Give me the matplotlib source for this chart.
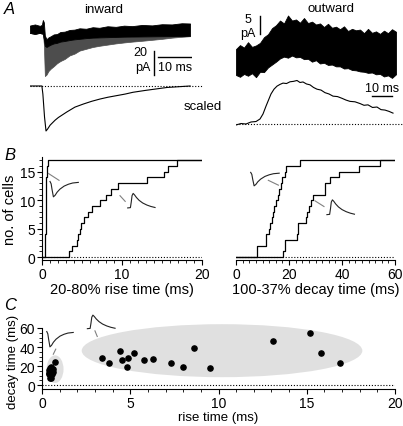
import numpy as np
import matplotlib
matplotlib.use("Agg")
import matplotlib.pyplot as plt
from matplotlib.patches import Ellipse
from matplotlib.ticker import MultipleLocator

plt.rcParams["font.family"] = ["Liberation Sans", "DejaVu Sans"]

W, H = 403, 427

# A: inward currents, envelope of all traces (ms, pA)
in_t = [0, 1.5, 3.0, 3.6, 3.9, 4.2, 4.5, 5.0, 5.6, 6.3, 7.2, 8.2, 9.2, 10.5, 12, 13.5,
        15, 17, 19, 21, 23.5, 26, 28.5, 31, 34, 37, 40, 43, 46, 48.5]
in_top = [2.9, 3.8, 2.6, 3.5, 7.5, 5.5, -5.5, -8.5, -7.0, -6.0, -4.5, -4.2, -2.5, -2.2, -0.8, -0.5,
          0.6, 0.2, 1.5, 1.0, 2.3, 1.8, 2.8, 2.4, 3.4, 3.0, 4.0, 3.8, 4.8, 4.6]
in_core = [-3.3, -4.0, -3.2, -3.8, -3.5, -8.0, -14.0, -15.0, -14.0, -13.0, -12.0, -11.5, -10.5, -10.0, -9.2, -8.6,
           -8.2, -7.6, -7.2, -7.0, -6.8, -6.6, -6.4, -6.3, -6.2, -6.1, -6.0, -5.9, -5.8, -5.6]
in_bot = [-3.3, -4.0, -3.2, -3.8, -3.5, -12.5, -39.2, -38.0, -35.0, -33.0, -31.0, -28.5, -26.7, -25.0, -22.0, -20.5,
          -18.0, -16.5, -15.0, -14.0, -13.0, -12.0, -11.2, -10.5, -9.8, -9.0, -8.2, -7.2, -6.5, -6.0]

# A: inward average, scaled
in_sc_t = [0, 3.6, 3.9, 4.4, 4.85, 5.3, 6.1, 7.6, 8.6, 11.1, 13.6, 16.2, 18.7, 21.2, 23.6, 28.8,
           31.2, 34.8, 41.5, 48.5]
in_sc = [0, 0, -0.18, -0.69, -1.0, -0.96, -0.87, -0.76, -0.70, -0.58, -0.47, -0.40, -0.34, -0.29, -0.25, -0.18,
         -0.14, -0.10, -0.033, 0]

# A: outward currents, envelope of all traces (ms, pA)
out_t = list(range(0, 81, 2))
out_top = [3.3, 4.4, 3.7, 5.2, 3.9, 4.3, 5.0, 6.6, 7.4, 9.1, 9.9, 11.2, 10.4, 12.6, 11.2, 11.5, 10.6, 11.9,
           10.5, 10.9, 10.1, 10.4, 9.4, 10.3, 9.2, 9.5, 8.8, 9.6, 8.3, 8.9, 8.5, 8.7, 7.7, 8.9, 7.8, 8.2,
           7.5, 8.4, 7.7, 8.8, 8.1]
out_bot = [-3.9, -4.4, -3.6, -4.1, -3.4, -4.5, -3.0, -3.1, -1.8, -1.0, -0.2, 0.7, 1.2, 0.9, 1.5, 1.0, 1.1, 0.5,
           0.6, -0.2, 0.2, -0.7, -0.5, -1.1, -1.0, -1.5, -1.5, -2.1, -2.0, -2.5, -2.6, -2.9, -3.0, -3.3,
           -3.2, -3.7, -3.6, -4.3, -4.0, -4.7, -3.7]

# A: outward average, scaled
out_sc_t = [0, 2.5, 5, 7.5, 10, 12, 13.5, 15, 16.25, 17.5, 19, 20.5, 22, 23.5, 25.25, 27, 28.75, 30.5,
            32, 33.5, 35.25, 37, 38.75, 40.5, 42.5, 44.5, 46.5, 48.5, 50.75, 53, 55, 57, 59.5, 62,
            64, 66, 68.25, 70.5, 72.5, 74.5, 76.5, 78.5]
out_sc = [-0.023, 0.011, 0, 0.046, 0.057, 0.115, 0.23, 0.41, 0.55, 0.69, 0.80, 0.87, 0.91, 0.94, 0.93, 0.97,
          0.98, 1.0, 0.954, 0.966, 0.92, 0.90, 0.84, 0.80, 0.78, 0.72, 0.69, 0.64, 0.63, 0.59, 0.55, 0.52,
          0.51, 0.47, 0.43, 0.44, 0.38, 0.39, 0.33, 0.32, 0.29, 0.25]

# B / C: kinetics per cell (ms)
rise_in = [0.45, 0.50, 0.42, 0.54, 0.40, 0.52, 0.47, 0.60, 0.43, 0.54, 0.48, 0.41, 0.65, 0.51, 0.44, 0.53, 0.75]
decay_in = [8.0, 8.0, 11.3, 11.3, 12.5, 13.0, 13.5, 14.0, 14.5, 15.0, 15.8, 16.3, 16.8, 17.5, 18.5, 19.0, 24.0]
rise_out = [3.4, 3.8, 4.4, 4.56, 4.85, 4.8, 5.2, 5.8, 6.3, 7.3, 8.0, 8.6, 9.5, 13.07, 15.2, 15.8, 16.9]
decay_out = [28.4, 23.0, 35.5, 26.7, 29.0, 18.6, 33.7, 26.3, 27.4, 23.5, 18.6, 39.0, 17.9, 46.3, 54.4, 33.7, 23.5]

# small example waveforms used as insets (normalised)
shape_in_t = [0, 0.04, 0.07, 0.12, 0.18, 0.25, 0.35, 0.5, 0.65, 0.8, 1.0]
shape_in = [0, -0.15, -0.5, -1.0, -0.9, -0.7, -0.5, -0.3, -0.18, -0.1, -0.06]
shape_out_t = [0, 0.1, 0.13, 0.16, 0.2, 0.25, 0.32, 0.42, 0.55, 0.7, 0.85, 1.0]
shape_out = [0, 0.02, 0.4, 0.85, 1.0, 0.9, 0.72, 0.52, 0.34, 0.2, 0.1, 0.03]

fig = plt.figure(figsize=(W / 100, H / 100), dpi=100)


def box(x0, y0, x1, y1):
    return fig.add_axes([x0 / W, 1 - y1 / H, (x1 - x0) / W, (y1 - y0) / H])


dots = (0, (1, 1.6))
grey = "#808080"

# ---------- A ----------
ax = box(30, 15, 192, 82)
ax.set_xlim(0, 49.1)
ax.set_ylim(-43.3, 12.5)
ax.axis("off")
ax.fill_between(in_t, in_bot, in_core, color="#4d4d4d", lw=0.5)
ax.fill_between(in_t, in_core, in_top, color="black", lw=0.6)
ax.plot([37.6, 37.6], [-18.3, -38.3], color="black", lw=1)
ax.plot([38.8, 48.8], [-23.3, -23.3], color="black", lw=1)
ax.text(33.3, -18.75, "20", ha="center", va="center", fontsize=9)
ax.text(34.2, -31.25, "pA", ha="center", va="center", fontsize=9)
ax.text(43.9, -31.7, "10 ms", ha="center", va="center", fontsize=9)

ax = box(30, 85, 203, 135)
ax.set_xlim(0, 52.4)
ax.set_ylim(-1.067, 0.044)
ax.axis("off")
ax.axhline(0, color="black", lw=0.8, ls=dots)
ax.plot(in_sc_t, in_sc, color="black", lw=0.8)

ax = box(236, 10, 396, 80)
ax.set_xlim(0, 80)
ax.set_ylim(-5, 14.4)
ax.axis("off")
ax.fill_between(out_t, out_bot, out_top, color="black", lw=0.6)
ax.plot([12, 12], [7.5, 12.5], color="black", lw=1)
ax.text(5.75, 11.7, "5", ha="center", va="center", fontsize=9)
ax.text(5.75, 7.8, "pA", ha="center", va="center", fontsize=9)

ax = box(236, 75, 403, 130)
ax.set_xlim(0, 83.5)
ax.set_ylim(-0.115, 1.149)
ax.axis("off")
ax.axhline(0, color="black", lw=0.8, ls=dots)
ax.plot(out_sc_t, out_sc, color="black", lw=0.8)
ax.plot([67.8, 77.8], [0.64, 0.64], color="black", lw=1)
ax.text(72.8, 0.83, "10 ms", ha="center", va="center", fontsize=9)

fig.text(104 / W, 1 - 10 / H, "inward", ha="center", va="center", fontsize=9.5)
fig.text(331 / W, 1 - 9 / H, "outward", ha="center", va="center", fontsize=9.5)
fig.text(203 / W, 1 - 107 / H, "scaled", ha="center", va="center", fontsize=9.5)


def style(ax, left=True):
    ax.spines["top"].set_visible(False)
    ax.spines["right"].set_visible(False)
    for s in ax.spines.values():
        s.set_linewidth(0.8)
    if not left:
        ax.spines["left"].set_visible(False)
        ax.set_yticks([])
    ax.tick_params(which="major", direction="out", length=3.5, width=0.8, labelsize=10, pad=1.5)
    ax.tick_params(which="minor", direction="out", length=2, width=0.6)


def inset(ax, x0, y0, w, h, t, a, lim):
    ia = ax.inset_axes([x0, y0, w, h], transform=ax.transData)
    ia.plot(t, a, color="#222222", lw=0.8, clip_on=False)
    ia.set_xlim(0, 1)
    ia.set_ylim(*lim)
    ia.axis("off")


def cumulative(ax, vals, xmax):
    v = np.sort(vals)
    x = np.concatenate([[0], v, [xmax]])
    y = np.concatenate([[0], np.arange(1, len(v) + 1), [len(v)]])
    ax.step(x, y, where="post", color="black", lw=0.9)


# ---------- B ----------
ax = box(42, 158, 202, 261)
style(ax)
ax.set_xlim(0, 20)
ax.set_ylim(-0.5, 17.6)
ax.set_xticks([0, 10, 20])
ax.set_yticks([0, 5, 10, 15])
ax.xaxis.set_minor_locator(MultipleLocator(1))
ax.yaxis.set_minor_locator(MultipleLocator(1))
ax.axhline(0, color="black", lw=0.8, ls=dots)
cumulative(ax, rise_in, 20)
cumulative(ax, rise_out, 20)
ax.set_xlabel("20-80% rise time (ms)", fontsize=10.5, labelpad=1)
ax.set_ylabel("no. of cells", fontsize=10.5, labelpad=2)
inset(ax, 1.0, 10.6, 3.54, 2.7, shape_in_t, shape_in, (-1, 0))
inset(ax, 10.71, 8.65, 3.42, 2.55, shape_out_t, shape_out, (0, 1))
ax.plot([0.81, 2.13], [14.7, 13.5], color=grey, lw=0.8)
ax.plot([9.75, 10.4], [10.8, 9.8], color=grey, lw=0.8)

ax = box(236, 158, 395, 261)
style(ax, left=False)
ax.set_xlim(0, 60)
ax.set_ylim(-0.5, 17.6)
ax.set_xticks([0, 20, 40, 60])
ax.xaxis.set_minor_locator(MultipleLocator(2.5))
ax.axhline(0, color="black", lw=0.8, ls=dots)
cumulative(ax, decay_in, 60)
cumulative(ax, decay_out, 60)
ax.set_xlabel("100-37% decay time (ms)", fontsize=10.5, labelpad=1)
inset(ax, 5.54, 12.53, 10.76, 2.37, shape_in_t, shape_in, (-1, 0))
inset(ax, 34.3, 7.47, 10.4, 2.6, shape_out_t, shape_out, (0, 1))
ax.plot([12.2, 16.0], [13.5, 12.65], color=grey, lw=0.8)
ax.plot([29.8, 33.2], [9.9, 8.9], color=grey, lw=0.8)

# ---------- C ----------
ax = box(42, 329, 395, 390)
style(ax)
ax.set_xlim(0, 20)
ax.set_ylim(-4, 60)
ax.set_xticks([0, 5, 10, 15, 20])
ax.set_yticks([0, 20, 40, 60])
ax.xaxis.set_minor_locator(MultipleLocator(1))
ax.yaxis.set_minor_locator(MultipleLocator(5))
ax.axhline(0, color="black", lw=0.8, ls=dots)
ax.add_patch(Ellipse((10.2, 36.2), 15.9, 55.6, fc="#e0e0e0", ec="none", clip_on=False, zorder=0))
ax.add_patch(Ellipse((0.74, 16.8), 0.96, 29, fc="#e0e0e0", ec="none", clip_on=False, zorder=0))
ax.scatter(rise_in, decay_in, s=14, color="black", zorder=3, clip_on=False)
ax.scatter(rise_out, decay_out, s=14, color="black", zorder=3, clip_on=False)
ax.set_xlabel("rise time (ms)", fontsize=9.5, labelpad=1)
ax.set_ylabel("decay time (ms)", fontsize=9.5)
ax.yaxis.set_label_coords(-29 / 353, 0.46)
ax.yaxis.label.set_va("center")
inset(ax, 0.27, 40.2, 1.5, 16.1, shape_in_t, shape_in, (-1, 0))
inset(ax, 2.57, 59.3, 1.57, 14.2, shape_out_t, shape_out, (0, 1))
ax.plot([0.78, 0.64], [37.8, 32.5], color=grey, lw=0.8)
ax.plot([3.0, 3.13], [57, 51.1], color=grey, lw=0.8)

for letter, x, y in [("A", 9, 9), ("B", 10, 156), ("C", 10, 306)]:
    fig.text(x / W, 1 - y / H, letter, ha="center", va="center", fontsize=12, style="italic")

fig.savefig("out.png", dpi=100)
